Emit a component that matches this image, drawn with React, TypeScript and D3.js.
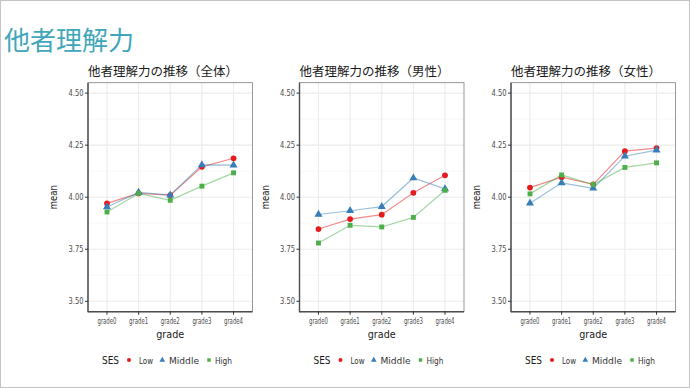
import React from 'react'
import { scaleLinear, scalePoint, line, symbol, symbolCircle, symbolTriangle, symbolSquare } from 'd3'

const grades = ['grade0', 'grade1', 'grade2', 'grade3', 'grade4']
const yTicks = [3.5, 3.75, 4.0, 4.25, 4.5]
const yMinor = [3.625, 3.875, 4.125, 4.375]
const sesLevels = ['Low', 'Middle', 'High']
const panelTitles = ['他者理解力の推移（全体）', '他者理解力の推移（男性）', '他者理解力の推移（女性）']

// mean by grade, one array per SES level and panel
const allLow = [3.97, 4.018, 4.01, 4.146, 4.187]
const allMiddle = [3.953, 4.023, 4.01, 4.155, 4.154]
const allHigh = [3.929, 4.018, 3.985, 4.053, 4.117]

const maleLow = [3.847, 3.895, 3.916, 4.021, 4.105]
const maleMiddle = [3.917, 3.935, 3.955, 4.092, 4.04]
const maleHigh = [3.78, 3.865, 3.857, 3.903, 4.033]

const femaleLow = [4.046, 4.096, 4.062, 4.221, 4.236]
const femaleMiddle = [3.971, 4.069, 4.043, 4.197, 4.226]
const femaleHigh = [4.016, 4.107, 4.061, 4.143, 4.165]

const panels = [
  [allLow, allMiddle, allHigh],
  [maleLow, maleMiddle, maleHigh],
  [femaleLow, femaleMiddle, femaleHigh],
]

const colors = ['#E41A1C', '#377EB8', '#4DAF4A']
const shapes = [symbolCircle, symbolTriangle, symbolSquare]
const shapeSize = [26, 28, 24]
const legendSize = [13, 14, 12]

const panelW = 164.5
const panelStep = 211.5
const top = 82.7
const bottom = 311.7
const tickFont = 'DejaVu Sans'

const Panel = ({ idx }: { idx: number }) => {
  const left = 88 + idx * panelStep
  const right = left + panelW
  const x = scalePoint<string>().domain(grades).range([left, right]).padding(0.6)
  const y = scaleLinear().domain([3.45, 4.55]).range([bottom, top])
  const path = line<number>()
    .x((_, i) => x(grades[i]) as number)
    .y(d => y(d))
  const series = panels[idx]
  const lx = 102 + idx * panelStep

  return (
    <g>
      <text x={left} y={75.5} fontSize={12.5} fill="#1a1a1a"
        fontFamily="'Noto Sans CJK JP'">{panelTitles[idx]}</text>
      <rect x={left} y={top} width={panelW} height={bottom - top} fill="#fff" />
      {yMinor.map(t => (
        <line key={'m' + t} x1={left} x2={right} y1={y(t)} y2={y(t)} stroke="#f2f2f2" strokeWidth={0.6} />
      ))}
      {yTicks.map(t => (
        <line key={'g' + t} x1={left} x2={right} y1={y(t)} y2={y(t)} stroke="#ebebeb" strokeWidth={1.1} />
      ))}
      {grades.map(g => (
        <line key={'v' + g} x1={x(g)} x2={x(g)} y1={top} y2={bottom} stroke="#ebebeb" strokeWidth={1.1} />
      ))}
      {series.map((s, i) => (
        <path key={'l' + i} d={path(s) || ''} fill="none" stroke={colors[i]} strokeOpacity={0.5} strokeWidth={1.2} />
      ))}
      {series.map((s, i) =>
        s.map((v, j) => (
          <path key={'p' + i + j} transform={`translate(${x(grades[j])},${y(v)})`}
            d={symbol(shapes[i], shapeSize[i])() || ''} fill={colors[i]} />
        ))
      )}
      <rect x={left} y={top} width={panelW} height={bottom - top} fill="none" stroke="#7f7f7f" strokeWidth={0.8} />
      <line x1={left} x2={left} y1={top} y2={bottom + 0.6} stroke="#4d4d4d" strokeWidth={1.4} />
      <line x1={left} x2={right} y1={bottom} y2={bottom} stroke="#4d4d4d" strokeWidth={1.4} />
      {yTicks.map(t => (
        <g key={'yt' + t}>
          <line x1={left - 3} x2={left} y1={y(t)} y2={y(t)} stroke="#333" strokeWidth={1} />
          <text x={left - 4.5} y={y(t) + 3.2} fontSize={9} textAnchor="end" fill="#4d4d4d"
            fontFamily={tickFont} textLength={15} lengthAdjust="spacingAndGlyphs">{t.toFixed(2)}</text>
        </g>
      ))}
      {grades.map(g => (
        <g key={'xt' + g}>
          <line x1={x(g)} x2={x(g)} y1={bottom} y2={bottom + 3} stroke="#333" strokeWidth={1} />
          <text x={x(g)} y={bottom + 12} fontSize={9} textAnchor="middle" fill="#4d4d4d"
            fontFamily={tickFont} textLength={19} lengthAdjust="spacingAndGlyphs">{g}</text>
        </g>
      ))}
      <text x={(left + right) / 2} y={338} fontSize={11} textAnchor="middle" fill="#1a1a1a"
        fontFamily={tickFont} textLength={28} lengthAdjust="spacingAndGlyphs">grade</text>
      <text transform={`translate(${left - 31},${(top + bottom) / 2}) rotate(-90)`} fontSize={11}
        textAnchor="middle" fill="#1a1a1a" fontFamily={tickFont} textLength={24}
        lengthAdjust="spacingAndGlyphs">mean</text>
      <g>
        <text x={lx} y={364} fontSize={11} fill="#1a1a1a" fontFamily={tickFont}
          textLength={17} lengthAdjust="spacingAndGlyphs">SES</text>
        {sesLevels.map((s, i) => {
          const mx = [129, 162.3, 209][i] - 102 + lx
          const tx = [139, 169, 215][i] - 102 + lx
          const tw = [14, 30, 17][i]
          return (
            <g key={s}>
              <path transform={`translate(${mx},360)`} d={symbol(shapes[i], legendSize[i])() || ''} fill={colors[i]} />
              <text x={tx} y={363.5} fontSize={9} fill="#333" fontFamily={tickFont}
                textLength={tw} lengthAdjust="spacingAndGlyphs">{s}</text>
            </g>
          )
        })}
      </g>
    </g>
  )
}

const App = () => {
  return (
    <svg width={690} height={388} style={{ position: 'absolute', left: 0, top: 0, background: '#fff' }}>
      <rect x={0.5} y={0.5} width={689} height={387} fill="#fff" stroke="#c4c4c4" strokeWidth={1} />
      <text x={4} y={49.5} fontSize={26} fill="#3fa7b9" fontFamily="'Noto Sans CJK JP'">他者理解力</text>
      {[0, 1, 2].map(i => <Panel key={i} idx={i} />)}
    </svg>
  )
}

export default App
